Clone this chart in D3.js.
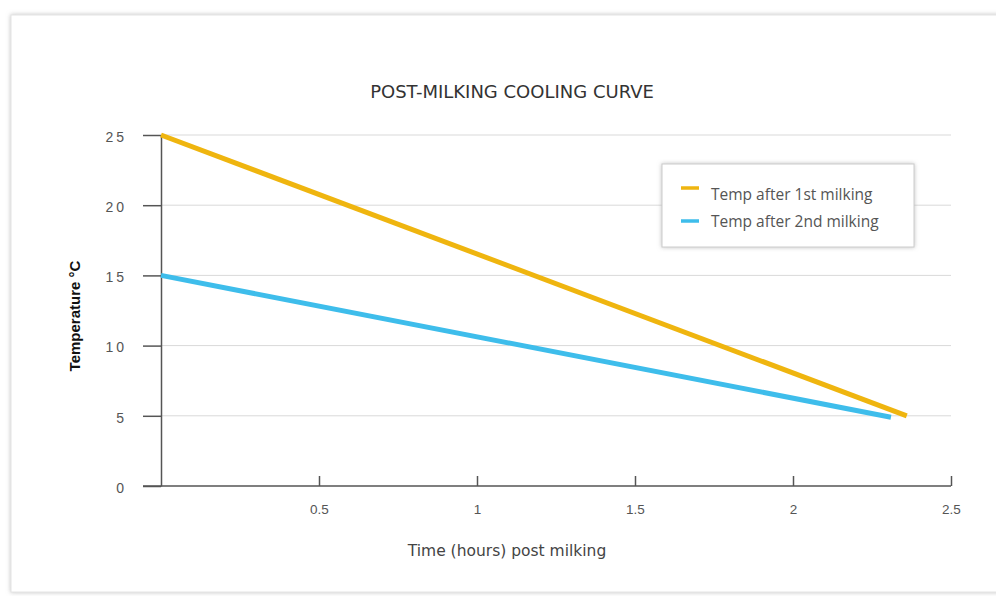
<html>
<script src="https://d3js.org/d3.v7.min.js"></script>
<body style="margin:0;background:#fff">
</body>
<script>
    var width = 996, height = 596;
    var margin = {top: 135, right: 44, bottom: 110, left: 161};

    // data
    let yTicks = [0, 5, 10, 15, 20, 25];
    let xTicks = [0.5, 1, 1.5, 2, 2.5];
    let series = ["Temp after 1st milking", "Temp after 2nd milking"];
    let firstHours = [0, 2.36];
    let firstTemps = [25, 5];
    let secondHours = [0, 2.31];
    let secondTemps = [15, 4.9];
    let colors = ["#EFB50F", "#3EBDEB"];

    let svg = d3.select("body").append("svg")
        .attr("width", width)
        .attr("height", height)
        .style("font-family", "Verdana, 'DejaVu Sans', sans-serif");

    // card with soft shadow
    let defs = svg.append("defs");
    let f = defs.append("filter").attr("id", "shadow")
        .attr("x", "-5%").attr("y", "-5%").attr("width", "110%").attr("height", "110%");
    f.append("feDropShadow").attr("dx", 0).attr("dy", 0)
        .attr("stdDeviation", 2).attr("flood-color", "#999").attr("flood-opacity", 0.6);

    svg.append("rect")
        .attr("x", 11).attr("y", 15)
        .attr("width", 1000).attr("height", 577)
        .attr("fill", "#fff")
        .attr("stroke", "#e4e4e4")
        .attr("filter", "url(#shadow)");

    let x = d3.scaleLinear().domain([0, 2.5]).range([margin.left, 951]);
    let y = d3.scaleLinear().domain([0, 25]).range([486, margin.top]);

    // gridlines
    svg.append("g")
        .selectAll("line")
        .data(yTicks.filter(t => t > 0))
        .join("line")
        .attr("x1", x(0)).attr("x2", x(2.5))
        .attr("y1", d => y(d)).attr("y2", d => y(d))
        .attr("stroke", "#d9d9d9").attr("stroke-width", 1);

    // y axis
    let yAxis = svg.append("g")
        .attr("transform", "translate(" + x(0) + ",0)")
        .call(d3.axisLeft(y).tickValues(yTicks).tickSize(18).tickPadding(16).tickSizeOuter(0));
    yAxis.select(".domain").attr("stroke", "#555").attr("stroke-width", 1.5);
    yAxis.selectAll(".tick line").attr("stroke", "#555").attr("stroke-width", 1.5);
    yAxis.selectAll(".tick text")
        .attr("fill", "#555").attr("font-size", 14)
        .attr("letter-spacing", 3)
        .attr("dy", "0.45em");

    // x axis (ticks pointing up)
    let xAxis = svg.append("g")
        .attr("transform", "translate(0," + y(0) + ")")
        .call(d3.axisTop(x).tickValues(xTicks).tickSize(10).tickSizeOuter(0).tickFormat(d3.format("")));
    xAxis.select(".domain").attr("stroke", "#555").attr("stroke-width", 1.5)
        .attr("d", "M" + (x(0) - 18) + ",0H" + x(2.5) + "");
    xAxis.selectAll(".tick line").attr("stroke", "#555").attr("stroke-width", 1.5);
    xAxis.selectAll(".tick text")
        .attr("fill", "#555").attr("font-size", 13.5)
        .attr("y", 28).attr("dy", 0);

    // lines
    let line = d3.line()
        .x(d => x(d[0]))
        .y(d => y(d[1]));
    let data = [
        d3.zip(firstHours, firstTemps),
        d3.zip(secondHours, secondTemps)
    ];
    data.forEach((d, i) => {
        svg.append("path")
            .datum(d)
            .attr("d", line)
            .attr("fill", "none")
            .attr("stroke", colors[i])
            .attr("stroke-width", 5);
    });

    // titles
    svg.append("text")
        .attr("x", 512).attr("y", 98)
        .attr("text-anchor", "middle")
        .attr("fill", "#333").attr("font-size", 18)
        .text("POST-MILKING COOLING CURVE");

    svg.append("text")
        .attr("x", 507).attr("y", 556)
        .attr("text-anchor", "middle")
        .attr("fill", "#444").attr("font-size", 15.5)
        .text("Time (hours) post milking");

    svg.append("text")
        .attr("transform", "translate(80,316) rotate(-90)")
        .attr("text-anchor", "middle")
        .attr("fill", "#111").attr("font-size", 15)
        .attr("font-weight", "bold")
        .style("font-family", "'Liberation Sans Narrow', Arial, sans-serif")
        .text("Temperature °C");

    // legend
    let legend = svg.append("g").attr("transform", "translate(662,164)");
    legend.append("rect")
        .attr("width", 252).attr("height", 83)
        .attr("fill", "#fff")
        .attr("stroke", "#ccc")
        .attr("filter", "url(#shadow)");
    series.forEach((s, i) => {
        legend.append("line")
            .attr("x1", 19).attr("x2", 37)
            .attr("y1", 24 + i * 33).attr("y2", 24 + i * 33)
            .attr("stroke", colors[i]).attr("stroke-width", 3.5);
        legend.append("text")
            .attr("x", 49).attr("y", 36 + i * 27)
            .attr("fill", "#555").attr("font-size", 15.5)
            .style("font-family", "'Open Sans', 'DejaVu Sans', sans-serif")
            .text(s);
    });
</script>
</html>
